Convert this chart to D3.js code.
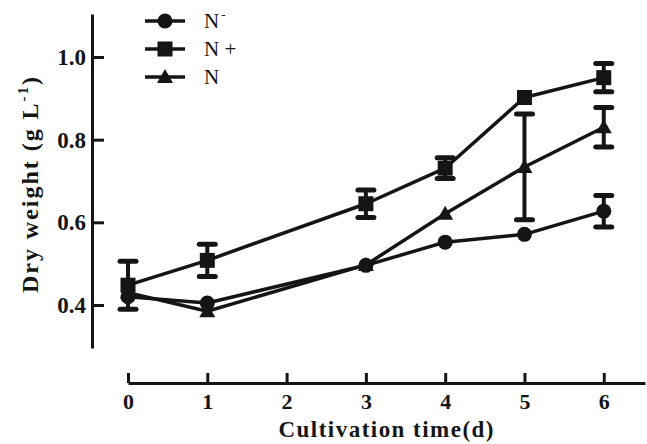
<!DOCTYPE html>
<html>
<head>
<meta charset="utf-8">
<script src="https://cdn.jsdelivr.net/npm/d3@7"></script>
<style>
  body { margin: 0; background: #fff; }
  svg { display: block; font-family: 'Liberation Serif', 'Times New Roman', serif; }
</style>
</head>
<body>
<script>
const days = [0, 1, 3, 4, 5, 6];
const xTicks = [0, 1, 2, 3, 4, 5, 6];
const yTicks = [0.4, 0.6, 0.8, 1.0];

const nMinus = [0.42, 0.405, 0.496, 0.552, 0.571, 0.627];
const nMinusErr = [0, 0, 0, 0, 0, 0.038];
const nPlus = [0.448, 0.508, 0.645, 0.731, 0.902, 0.95];
const nPlusErr = [0.058, 0.039, 0.033, 0.025, 0, 0.034];
const nMid = [0.43, 0.385, 0.497, 0.621, 0.734, 0.83];
const nMidErr = [0, 0, 0, 0, 0.128, 0.048];

const w = 647;
const h = 444;
const ink = '#151515';

const series = [
  { name: 'N', sup: '-', shape: 'circle', values: nMinus, err: nMinusErr },
  { name: 'N +', sup: '', shape: 'square', values: nPlus, err: nPlusErr },
  { name: 'N', sup: '', shape: 'triangle', values: nMid, err: nMidErr },
];

const svg = d3.select('body').append('svg').attr('width', w).attr('height', h);

const x = d3.scaleLinear().domain([0, 6.52]).range([128, 645]);
const y = d3.scaleLinear().domain([0.296, 1.104]).range([348, 14]);

//-------------------------------------------------------
// axes

const yAxis = svg
  .append('g')
  .attr('transform', 'translate(92,0)')
  .call(
    d3.axisLeft(y).tickValues(yTicks).tickFormat(d3.format('.1f'))
      .tickSizeInner(-12).tickSizeOuter(0).tickPadding(6)
  );

const xAxis = svg
  .append('g')
  .attr('transform', 'translate(0,383)')
  .call(
    d3.axisBottom(x).tickValues(xTicks).tickFormat(d3.format('d'))
      .tickSizeInner(-10).tickSizeOuter(0).tickPadding(10)
  );

[yAxis, xAxis].forEach((g) => {
  g.select('.domain').attr('stroke', ink).attr('stroke-width', 3);
  g.selectAll('.tick line').attr('stroke', ink).attr('stroke-width', 3);
  g.selectAll('.tick text')
    .attr('fill', ink)
    .attr('font-size', 22)
    .attr('font-weight', 'bold')
    .attr('font-family', "'Liberation Serif', serif");
});
yAxis.selectAll('.tick text').attr('font-size', 23);

svg
  .append('text')
  .attr('x', 386)
  .attr('y', 437)
  .attr('text-anchor', 'middle')
  .attr('font-size', 23)
  .attr('font-weight', 'bold')
  .attr('fill', ink)
  .attr('textLength', 215)
  .attr('lengthAdjust', 'spacing')
  .text('Cultivation time(d)');

const yTitle = svg
  .append('text')
  .attr('transform', 'translate(38,185) rotate(-90)')
  .attr('text-anchor', 'middle')
  .attr('font-size', 24)
  .attr('font-weight', 'bold')
  .attr('fill', ink)
  .attr('textLength', 216)
  .attr('lengthAdjust', 'spacing');
yTitle.append('tspan').text('Dry weight (g L');
yTitle.append('tspan').attr('font-size', 15).attr('dy', -10).text('-1');
yTitle.append('tspan').attr('dy', 10).text(')');

//-------------------------------------------------------
// marks

const marker = (g, shape) => {
  if (shape === 'circle') {
    g.append('circle').attr('r', 7.5).attr('fill', ink);
  } else if (shape === 'square') {
    g.append('rect').attr('x', -7.5).attr('y', -7.5)
      .attr('width', 15).attr('height', 15).attr('fill', ink);
  } else {
    g.append('path').attr('d', 'M0,-8L8,6L-8,6Z').attr('fill', ink);
  }
};

const line = d3.line().x((d) => x(d.day)).y((d) => y(d.v));

series.forEach((s) => {
  const pts = days.map((day, i) => ({ day, v: s.values[i], e: s.err[i] }));
  svg.append('path')
    .datum(pts)
    .attr('d', line)
    .attr('fill', 'none')
    .attr('stroke', ink)
    .attr('stroke-width', 3.5)
    .attr('stroke-linejoin', 'round');
  s.pts = pts;
});

series.forEach((s) => {
  s.pts.filter((d) => d.e > 0).forEach((d) => {
    const g = svg.append('g').attr('stroke', ink).attr('stroke-linecap', 'round');
    g.append('line')
      .attr('x1', x(d.day)).attr('x2', x(d.day))
      .attr('y1', y(d.v + d.e)).attr('y2', y(d.v - d.e))
      .attr('stroke-width', 4);
    [d.v + d.e, d.v - d.e].forEach((v) => {
      g.append('line')
        .attr('x1', x(d.day) - 8).attr('x2', x(d.day) + 8)
        .attr('y1', y(v)).attr('y2', y(v))
        .attr('stroke-width', 5);
    });
  });
});

series.forEach((s) => {
  s.pts.forEach((d) => {
    marker(svg.append('g').attr('transform', `translate(${x(d.day)},${y(d.v)})`), s.shape);
  });
});

//-------------------------------------------------------
// legend

const legendRows = [21, 49, 77];
series.forEach((s, i) => {
  const g = svg.append('g').attr('transform', `translate(165,${legendRows[i]})`);
  g.append('line').attr('x1', -20).attr('x2', 20)
    .attr('stroke', ink).attr('stroke-width', 3.5);
  marker(g, s.shape);
  const t = g.append('text')
    .attr('x', 39)
    .attr('y', 7)
    .attr('font-size', 21)
    .attr('fill', ink)
    .text(s.name);
  if (s.sup) {
    t.append('tspan').attr('font-size', 13).attr('dx', 2).attr('dy', -9).text(s.sup);
  }
});
</script>
</body>
</html>
